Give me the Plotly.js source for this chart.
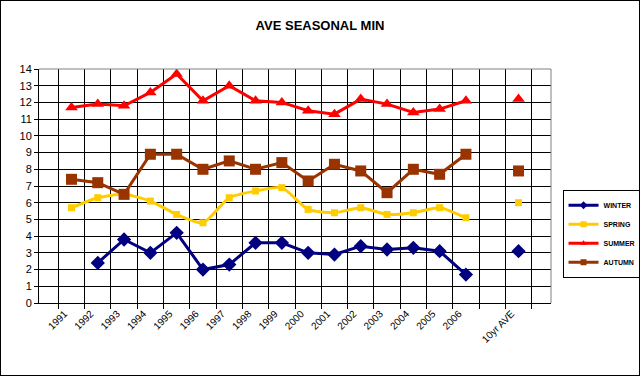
<!DOCTYPE html>
<html>
<head>
<meta charset="utf-8">
<script src="https://cdn.plot.ly/plotly-3.0.1.min.js"></script>
<style>
  html, body { margin: 0; padding: 0; background: #fff; }
  #chart { width: 638px; height: 374px; border: 1px solid #000; }
</style>
</head>
<body>
<div id="chart"></div>
<script>
const categories = ['1991','1992','1993','1994','1995','1996','1997','1998','1999','2000','2001','2002','2003','2004','2005','2006',' ','10yr AVE'];
const winter = [null, 2.4, 3.8, 3.0, 4.2, 2.0, 2.3, 3.6, 3.6, 3.0, 2.9, 3.4, 3.2, 3.3, 3.1, 1.7, null, 3.1];
const spring = [5.7, 6.3, 6.5, 6.1, 5.3, 4.8, 6.3, 6.7, 6.9, 5.6, 5.4, 5.7, 5.3, 5.4, 5.7, 5.1, null, 6.0];
const summer = [11.7, 11.9, 11.8, 12.6, 13.7, 12.1, 13.0, 12.1, 12.0, 11.5, 11.3, 12.2, 11.9, 11.4, 11.6, 12.1, null, 12.2];
const autumn = [7.4, 7.2, 6.5, 8.9, 8.9, 8.0, 8.5, 8.0, 8.4, 7.3, 8.3, 7.9, 6.6, 8.0, 7.7, 8.9, null, 7.9];
const seriesNames = ['WINTER', 'SPRING', 'SUMMER', 'AUTUMN'];

const FONT = 'Arial, "Liberation Sans", sans-serif';

const specs = [
  { name: seriesNames[0], y: winter, color: '#000080', symbol: 'diamond', size: 11, shape: 'linear' },
  { name: seriesNames[1], y: spring, color: '#FFCC00', symbol: 'square', size: 7, shape: 'spline' },
  { name: seriesNames[2], y: summer, color: '#FF0000', symbol: 'triangle-up', size: 11, shape: 'linear' },
  { name: seriesNames[3], y: autumn, color: '#993300', symbol: 'square', size: 11, shape: 'linear' }
];

const dataTraces = specs.map(s => ({
  type: 'scatter',
  mode: 'lines+markers',
  name: s.name,
  x: categories,
  y: s.y,
  connectgaps: false,
  showlegend: false,
  line: { color: s.color, width: 3, shape: s.shape, smoothing: 0.6 },
  marker: { color: s.color, symbol: s.symbol, size: s.size, line: { width: 0 } }
}));

// legend entries (small symbols like the original legend), no data drawn
const legendTraces = specs.map(s => ({
  type: 'scatter',
  mode: 'lines+markers',
  name: s.name,
  x: [categories[0]],
  y: [null],
  showlegend: true,
  hoverinfo: 'skip',
  line: { color: s.color, width: 3 },
  marker: { color: s.color, symbol: s.symbol, size: 6, line: { width: 0 } }
}));

const layout = {
  width: 638,
  height: 374,
  margin: { l: 38, r: 88, t: 68, b: 72, autoexpand: false },
  paper_bgcolor: '#ffffff',
  plot_bgcolor: '#ffffff',
  font: { family: FONT, color: '#000', size: 11 },
  title: {
    text: '<b>AVE SEASONAL MIN</b>',
    font: { family: FONT, size: 13, color: '#000' },
    x: 0.5, xanchor: 'center',
    y: 1 - 24 / 374, yref: 'container', yanchor: 'middle'
  },
  showlegend: true,
  legend: {
    x: 1.0225, xanchor: 'left',
    y: 0.484, yanchor: 'top',
    bgcolor: '#ffffff',
    bordercolor: '#000000',
    borderwidth: 1,
    font: { family: FONT, size: 7, color: '#000', weight: 'bold' },
    itemwidth: 30,
    tracegroupgap: 0
  },
  xaxis: {
    type: 'category',
    categoryorder: 'array',
    categoryarray: categories,
    tickson: 'boundaries',
    showgrid: true,
    gridcolor: '#000000',
    gridwidth: 1,
    showline: true,
    linecolor: '#000000',
    linewidth: 1,
    ticks: 'outside',
    ticklen: 5,
    tickcolor: '#000000',
    tickangle: -45,
    ticklabelshift: -7,
    tickfont: { family: FONT, size: 10, color: '#000' },
    zeroline: false,
    fixedrange: true
  },
  yaxis: {
    range: [0, 14],
    dtick: 1,
    tick0: 0,
    showgrid: true,
    gridcolor: '#000000',
    gridwidth: 1,
    showline: true,
    linecolor: '#000000',
    linewidth: 1,
    ticks: 'outside',
    ticklen: 4,
    tickcolor: '#000000',
    tickfont: { family: FONT, size: 11, color: '#000' },
    zeroline: false,
    fixedrange: true
  },
  shapes: [
    { type: 'line', xref: 'paper', yref: 'paper', x0: 0, x1: 1, y0: 1, y1: 1, line: { color: '#808080', width: 1 }, layer: 'above' },
    { type: 'line', xref: 'paper', yref: 'paper', x0: 1, x1: 1, y0: 0, y1: 1, line: { color: '#808080', width: 1 }, layer: 'above' }
  ]
};

Plotly.newPlot('chart', dataTraces.concat(legendTraces), layout, { displayModeBar: false, staticPlot: true });
</script>
</body>
</html>
